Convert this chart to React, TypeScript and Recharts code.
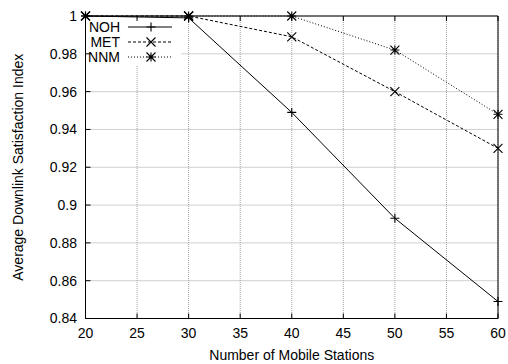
import React from 'react';
import { LineChart, Line, XAxis, YAxis, CartesianGrid, Label, Customized } from 'recharts';

const stations = [20, 30, 40, 50, 60];
const noh = [1, 0.999, 0.949, 0.893, 0.849];
const met = [1, 1, 0.989, 0.96, 0.93];
const nnm = [1, 1, 1, 0.982, 0.948];
const xTicks = [20, 25, 30, 35, 40, 45, 50, 55, 60];
const yTicks = [0.84, 0.86, 0.88, 0.9, 0.92, 0.94, 0.96, 0.98, 1];

const data = stations.map((s, i) => ({ s, NOH: noh[i], MET: met[i], NNM: nnm[i] }));

const FONT = '"Liberation Sans", Arial, Helvetica, sans-serif';
const R = 4.5;

const markerPath = (kind: string, cx: number, cy: number) => {
  const plus = `M${cx - R},${cy}H${cx + R}M${cx},${cy - R}V${cy + R}`;
  const cross = `M${cx - R},${cy - R}L${cx + R},${cy + R}M${cx - R},${cy + R}L${cx + R},${cy - R}`;
  if (kind === 'plus') return plus;
  if (kind === 'cross') return cross;
  return plus + cross;
};

const makeDot = (kind: string) => (props: any) => {
  const { cx, cy, index } = props;
  if (cx == null || cy == null) return <g key={`${kind}-${index}`} />;
  return <path key={`${kind}-${index}`} d={markerPath(kind, cx, cy)} stroke="#000" strokeWidth={1.1} fill="none" />;
};

const series = [
  { name: 'NOH', kind: 'plus', dash: undefined as string | undefined },
  { name: 'MET', kind: 'cross', dash: '3 2' },
  { name: 'NNM', kind: 'star', dash: '1 2' },
];

const KeyBox = () => (
  <g>
    <rect x={86} y={20} width={95} height={45} fill="#fff" />
    {series.map((s, i) => {
      const y = 27 + i * 15;
      return (
        <g key={s.name}>
          <text x={120} y={y} textAnchor="end" dominantBaseline="central" fontFamily={FONT} fontSize={14} fill="#000">
            {s.name}
          </text>
          <line x1={128} x2={172} y1={y} y2={y} stroke="#000" strokeWidth={1} strokeDasharray={s.dash} />
          <path d={markerPath(s.kind, 151, y)} stroke="#000" strokeWidth={1.1} fill="none" />
        </g>
      );
    })}
  </g>
);

const YTitle = (props: any) => {
  const vb = props.viewBox || {};
  const cx = (vb.x || 0) + 17.5;
  const cy = (vb.y || 0) + (vb.height || 0) / 2;
  return (
    <text x={cx} y={cy} transform={`rotate(-90 ${cx} ${cy})`} textAnchor="middle" dominantBaseline="central" fontFamily={FONT} fontSize={14} fill="#000">
      Average Downlink Satisfaction Index
    </text>
  );
};

const XTitle = (props: any) => {
  const vb = props.viewBox || {};
  const cx = (vb.x || 0) + (vb.width || 0) / 2;
  const cy = (vb.y || 0) + 36;
  return (
    <text x={cx} y={cy} textAnchor="middle" dominantBaseline="central" fontFamily={FONT} fontSize={14} fill="#000">
      Number of Mobile Stations
    </text>
  );
};

const tickStyle = { fontFamily: FONT, fontSize: 14, fill: '#000' };

export default function App() {
  return (
    <div style={{ position: 'absolute', left: 0, top: 0 }}>
      <LineChart width={508} height={364} data={data} margin={{ top: 15, right: 0, bottom: 0.5, left: 0.5 }}>
        <CartesianGrid stroke="#a0a0a0" strokeDasharray="1 1" />
        <Customized component={KeyBox} />
        <XAxis
          dataKey="s"
          type="number"
          domain={[20, 60]}
          ticks={xTicks}
          height={45}
          tickSize={-5}
          tickMargin={14.5}
          axisLine={{ stroke: '#000' }}
          tickLine={{ stroke: '#000' }}
          tick={tickStyle}
        >
          <Label content={<XTitle />} />
        </XAxis>
        <XAxis
          xAxisId="top"
          orientation="top"
          dataKey="s"
          type="number"
          domain={[20, 60]}
          ticks={xTicks}
          height={1}
          tickSize={-5}
          axisLine={{ stroke: '#000' }}
          tickLine={{ stroke: '#000' }}
          tick={() => <g />}
        />
        <YAxis
          type="number"
          domain={[0.84, 1]}
          ticks={yTicks}
          width={85}
          tickSize={-5}
          tickMargin={13.5}
          axisLine={{ stroke: '#000' }}
          tickLine={{ stroke: '#000' }}
          tick={tickStyle}
        >
          <Label content={<YTitle />} />
        </YAxis>
        <YAxis
          yAxisId="right"
          orientation="right"
          type="number"
          domain={[0.84, 1]}
          ticks={yTicks}
          width={10}
          tickSize={-5}
          axisLine={{ stroke: '#000' }}
          tickLine={{ stroke: '#000' }}
          tick={() => <g />}
        />
        {series.map((s) => (
          <Line
            key={s.name}
            dataKey={s.name}
            stroke="#000"
            strokeWidth={1}
            strokeDasharray={s.dash}
            dot={makeDot(s.kind)}
            activeDot={false}
            isAnimationActive={false}
          />
        ))}
      </LineChart>
    </div>
  );
}
